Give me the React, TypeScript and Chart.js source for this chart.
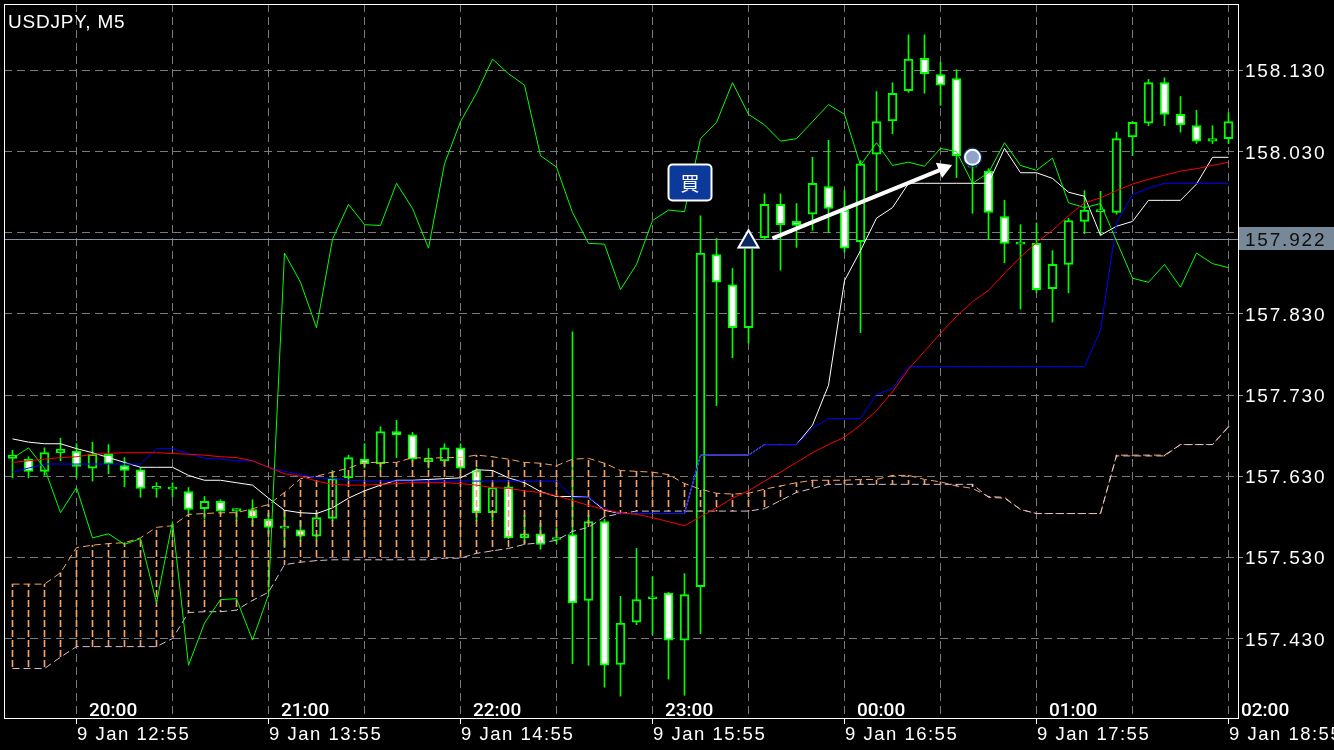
import React, { useEffect, useRef } from 'react';
import { Chart, registerables } from 'chart.js';

Chart.register(...registerables);

// ---------- data (USDJPY M5, bars indexed 0..76, 9 Jan 12:35 .. 18:55) ----------
const opens = [
  157.652, 157.651, 157.636, 157.659, 157.661, 157.640, 157.657, 157.643, 157.638, 157.615,
  157.614, 157.611, 157.590, 157.599, 157.587, 157.589, 157.577, 157.566, 157.564, 157.556,
  157.578, 157.628, 157.651, 157.645, 157.685, 157.681, 157.648, 157.649, 157.665, 157.637,
  157.585, 157.617, 157.554, 157.559, 157.552, 157.558, 157.477, 157.574, 157.398, 157.450,
  157.479, 157.486, 157.428, 157.494, 157.903, 157.866, 157.813, 157.924, 157.965, 157.944,
  157.953, 157.987, 157.958, 157.919, 158.027, 158.068, 158.105, 158.145, 158.125, 158.120,
  158.025, 158.006, 157.950, 157.916, 157.917, 157.861, 157.891, 157.944, 157.956, 157.955,
  158.048, 158.065, 158.115, 158.076, 158.062, 158.043, 158.046,
];
const highs = [
  157.662, 157.654, 157.665, 157.677, 157.670, 157.672, 157.669, 157.653, 157.641, 157.622,
  157.622, 157.616, 157.605, 157.601, 157.590, 157.601, 157.584, 157.588, 157.575, 157.585,
  157.637, 157.656, 157.670, 157.691, 157.699, 157.684, 157.664, 157.670, 157.670, 157.640,
  157.621, 157.619, 157.582, 157.572, 157.566, 157.808, 157.582, 157.577, 157.482, 157.541,
  157.506, 157.487, 157.510, 157.951, 157.923, 157.886, 157.930, 157.978, 157.978, 157.966,
  158.023, 158.044, 157.982, 158.019, 158.104, 158.115, 158.174, 158.174, 158.140, 158.131,
  158.031, 158.009, 157.970, 157.940, 157.942, 157.908, 157.948, 157.982, 157.981, 158.054,
  158.067, 158.119, 158.121, 158.098, 158.081, 158.062, 158.078,
];
const lows = [
  157.628, 157.628, 157.631, 157.649, 157.628, 157.624, 157.633, 157.617, 157.604, 157.604,
  157.604, 157.584, 157.577, 157.583, 157.575, 157.569, 157.559, 157.542, 157.550, 157.551,
  157.575, 157.625, 157.640, 157.638, 157.653, 157.647, 157.640, 157.643, 157.637, 157.575,
  157.575, 157.553, 157.547, 157.540, 157.547, 157.399, 157.397, 157.370, 157.359, 157.447,
  157.435, 157.380, 157.360, 157.436, 157.717, 157.776, 157.794, 157.922, 157.884, 157.912,
  157.933, 157.930, 157.906, 157.807, 157.982, 158.052, 158.103, 158.102, 158.087, 157.998,
  157.954, 157.922, 157.893, 157.836, 157.856, 157.820, 157.856, 157.929, 157.927, 157.953,
  158.025, 158.062, 158.062, 158.054, 158.040, 158.040, 158.040,
];
const closes = [
  157.656, 157.636, 157.659, 157.663, 157.642, 157.657, 157.645, 157.637, 157.615, 157.615,
  157.614, 157.589, 157.599, 157.587, 157.590, 157.579, 157.567, 157.566, 157.556, 157.579,
  157.627, 157.653, 157.645, 157.685, 157.681, 157.651, 157.652, 157.665, 157.640, 157.585,
  157.616, 157.554, 157.559, 157.546, 157.553, 157.474, 157.574, 157.397, 157.449, 157.478,
  157.479, 157.428, 157.484, 157.905, 157.869, 157.813, 157.922, 157.965, 157.940, 157.939,
  157.991, 157.960, 157.911, 158.015, 158.067, 158.102, 158.144, 158.126, 158.112, 158.025,
  158.011, 157.955, 157.917, 157.916, 157.860, 157.891, 157.945, 157.958, 157.956, 158.046,
  158.066, 158.115, 158.076, 158.063, 158.043, 158.046, 158.067,
];
const tenkan = [
  157.676, 157.672, 157.670, 157.670, 157.664, 157.659, 157.653, 157.647, 157.641, 157.641,
  157.641, 157.631, 157.625, 157.625, 157.622, 157.619, 157.603, 157.588, 157.585, 157.584,
  157.591, 157.603, 157.612, 157.619, 157.625, 157.625, 157.626, 157.627, 157.628, 157.638,
  157.637, 157.628, 157.622, 157.611, 157.605, 157.605, 157.604, 157.588, 157.584, 157.584,
  157.584, 157.584, 157.584, 157.656, 157.656, 157.656, 157.656, 157.669, 157.669, 157.669,
  157.693, 157.742, 157.871, 157.908, 157.948, 157.961, 157.991, 157.991, 157.991, 157.991,
  157.991, 157.991, 158.034, 158.004, 158.004, 157.997, 157.980, 157.975, 157.927, 157.938,
  157.944, 157.970, 157.970, 157.970, 157.990, 158.023, 158.023,
];
const kijun = [
  157.635, 157.640, 157.645, 157.645, 157.645, 157.645, 157.645, 157.645, 157.645, 157.664,
  157.664, 157.658, 157.652, 157.651, 157.649, 157.649, 157.641, 157.636, 157.632, 157.628,
  157.627, 157.625, 157.624, 157.624, 157.624, 157.624, 157.624, 157.624, 157.624, 157.624,
  157.624, 157.624, 157.624, 157.624, 157.624, 157.604, 157.604, 157.590, 157.584, 157.584,
  157.584, 157.584, 157.584, 157.656, 157.656, 157.656, 157.656, 157.669, 157.669, 157.669,
  157.689, 157.701, 157.701, 157.701, 157.731, 157.738, 157.765, 157.765, 157.765, 157.765,
  157.765, 157.765, 157.765, 157.765, 157.765, 157.765, 157.765, 157.765, 157.810, 157.942,
  157.977, 157.985, 157.991, 157.991, 157.991, 157.991, 157.991,
];
const spanA = [
  157.497, 157.497, 157.497, 157.511, 157.542, 157.545, 157.547, 157.548, 157.554, 157.567,
  157.569, 157.583, 157.584, 157.585, 157.585, 157.590, 157.595, 157.610, 157.627, 157.630,
  157.635, 157.640, 157.647, 157.647, 157.647, 157.653, 157.652, 157.653, 157.653, 157.656,
  157.654, 157.651, 157.647, 157.646, 157.643, 157.651, 157.652, 157.646, 157.637, 157.636,
  157.635, 157.632, 157.621, 157.614, 157.609, 157.608, 157.609, 157.614, 157.618, 157.622,
  157.625, 157.625, 157.625, 157.626, 157.626, 157.631, 157.631, 157.626, 157.623, 157.618,
  157.615, 157.605, 157.604, 157.589, 157.584, 157.584, 157.584, 157.584, 157.584, 157.656,
  157.656, 157.656, 157.656, 157.669, 157.669, 157.669, 157.691,
];
const spanB = [
  157.393, 157.393, 157.393, 157.407, 157.420, 157.420, 157.420, 157.420, 157.420, 157.420,
  157.430, 157.462, 157.463, 157.463, 157.465, 157.477, 157.487, 157.521, 157.524, 157.526,
  157.527, 157.527, 157.527, 157.527, 157.527, 157.527, 157.527, 157.529, 157.529, 157.535,
  157.538, 157.541, 157.546, 157.548, 157.551, 157.562, 157.567, 157.580, 157.584, 157.587,
  157.587, 157.587, 157.587, 157.587, 157.587, 157.587, 157.587, 157.590, 157.600, 157.610,
  157.615, 157.620, 157.620, 157.620, 157.620, 157.620, 157.620, 157.620, 157.620, 157.620,
  157.620, 157.604, 157.603, 157.589, 157.584, 157.584, 157.584, 157.584, 157.584, 157.655,
  157.655, 157.655, 157.655, 157.669, 157.669, 157.669, 157.691,
];
const chikou = [
  157.652, 157.665, 157.640, 157.585, 157.616, 157.554, 157.559, 157.546, 157.553, 157.474,
  157.574, 157.397, 157.449, 157.478, 157.479, 157.428, 157.484, 157.905, 157.869, 157.813,
  157.922, 157.965, 157.940, 157.939, 157.991, 157.960, 157.911, 158.015, 158.067, 158.102,
  158.144, 158.126, 158.112, 158.025, 158.011, 157.955, 157.917, 157.916, 157.860, 157.891,
  157.945, 157.958, 157.956, 158.046, 158.066, 158.115, 158.076, 158.063, 158.043, 158.046,
  158.067, 158.088, 158.076, 158.013, 158.041, 158.013, 158.017, 158.012, 158.034, 158.030,
  157.991, 158.004, 158.041, 158.013, 158.007, 158.022, 157.967, 157.961, 157.966, 157.920,
  157.874, 157.869, 157.891, 157.863, 157.905, 157.892, 157.887,
];
const movingAvg = [
  157.647, 157.649, 157.651, 157.653, 157.654, 157.657, 157.658, 157.659, 157.659, 157.659,
  157.658, 157.657, 157.656, 157.654, 157.653, 157.649, 157.641, 157.633, 157.630, 157.624,
  157.620, 157.619, 157.619, 157.620, 157.621, 157.622, 157.622, 157.622, 157.621, 157.619,
  157.616, 157.615, 157.612, 157.610, 157.606, 157.600, 157.594, 157.589, 157.585, 157.583,
  157.579, 157.574, 157.569, 157.580, 157.591, 157.603, 157.612, 157.624, 157.635, 157.647,
  157.659, 157.669, 157.678, 157.693, 157.711, 157.734, 157.762, 157.784, 157.806, 157.827,
  157.845, 157.859, 157.880, 157.900, 157.918, 157.933, 157.951, 157.967, 157.973, 157.982,
  157.990, 157.996, 158.001, 158.006, 158.009, 158.013, 158.017,
];

const priceTicks = [157.43, 157.53, 157.63, 157.73, 157.83, 157.93, 158.03, 158.13];
const gridIdx = [4, 10, 16, 22, 28, 34, 40, 46, 52, 58, 64, 70, 76];
const hourIdx = [4, 16, 28, 40, 52, 64, 76];
const hourLabels = ['20:00', '21:00', '22:00', '23:00', '00:00', '01:00', '02:00'];
const dateLabels = ['9 Jan 12:55', '9 Jan 13:55', '9 Jan 14:55', '9 Jan 15:55', '9 Jan 16:55', '9 Jan 17:55', '9 Jan 18:55'];
const symbolTitle = 'USDJPY, M5';
const orderPrice = 157.922;
const entryMark = { x: 46, y: 157.919 };
const exitMark = { x: 60, y: 158.023 };
const arrowFrom = { x: 47.5, y: 157.923 };
const arrowTo = { x: 58.18, y: 158.009 };
const buyLabelAt = { x: 42.3, y: 157.993 };
const buyLabelText = '買';

const X_MIN = -0.53125;
const X_MAX = 76.59375;
const Y_MIN = 157.332025;
const Y_MAX = 158.211954;

export default function App() {
  const ref = useRef<HTMLCanvasElement>(null);

  useEffect(() => {
    document.body.style.margin = '0';
    document.body.style.background = '#000';
    const canvas = ref.current as HTMLCanvasElement;
    const mainCtx = canvas.getContext('2d') as CanvasRenderingContext2D;
    const mkPattern = (color: string) => {
      const c = document.createElement('canvas');
      c.width = 1;
      c.height = 10;
      const g = c.getContext('2d') as CanvasRenderingContext2D;
      g.fillStyle = color;
      g.fillRect(0, 0, 1, 7);
      return mainCtx.createPattern(c, 'repeat') as CanvasPattern;
    };
    const upHatch = mkPattern('#f4a460');
    const dnHatch = mkPattern('#d8bfd8');
    const idx = closes.map((_, i) => i);
    const pts = (arr: number[]) => arr.map((v, i) => ({ x: i, y: v }));

    const lineDs = (label: string, arr: number[], color: string, order: number, extra: any = {}) => ({
      type: 'line',
      label,
      data: pts(arr),
      borderColor: color,
      borderWidth: 1,
      pointRadius: 0,
      fill: false,
      tension: 0,
      order,
      ...extra,
    });
    const marker = (p: any, style: string, r: number, bg: string, bw: number, order: number) => ({
      type: 'line',
      data: [p],
      showLine: false,
      pointStyle: style,
      pointRadius: r,
      pointBackgroundColor: bg,
      pointBorderColor: '#ffffff',
      pointBorderWidth: bw,
      order,
    });

    const overlay = {
      id: 'overlay',
      beforeDraw(chart: any) {
        const c = chart.ctx;
        c.save();
        c.fillStyle = '#000000';
        c.fillRect(0, 0, chart.width, chart.height);
        c.restore();
      },
      beforeDatasetsDraw(chart: any) {
        const c = chart.ctx;
        const a = chart.chartArea;
        const py = Math.round(chart.scales.y.getPixelForValue(orderPrice)) + 0.5;
        c.save();
        c.strokeStyle = '#8494a6';
        c.lineWidth = 1;
        c.beginPath();
        c.moveTo(a.left, py);
        c.lineTo(a.right, py);
        c.stroke();
        c.restore();
      },
      afterDatasetsDraw(chart: any) {
        const c = chart.ctx;
        const cx = chart.scales.x.getPixelForValue(buyLabelAt.x);
        const cy = chart.scales.y.getPixelForValue(buyLabelAt.y);
        const w = 43;
        const h = 36;
        const l = Math.round(cx - w / 2) + 0.5;
        const t = Math.round(cy - h / 2) + 0.5;
        c.save();
        c.beginPath();
        c.roundRect(l, t, w, h, 4);
        c.fillStyle = '#0c3a9a';
        c.fill();
        c.lineWidth = 2;
        c.strokeStyle = '#ffffff';
        c.stroke();
        c.fillStyle = '#ffffff';
        c.font = '19px "Noto Sans CJK JP"';
        c.textAlign = 'center';
        c.textBaseline = 'middle';
        c.fillText(buyLabelText, l + w / 2, t + h / 2 + 1);
        c.restore();
      },
      afterDraw(chart: any) {
        const c = chart.ctx as any;
        const a = chart.chartArea;
        const xs = chart.scales.x;
        const ys = chart.scales.y;
        c.save();
        c.strokeStyle = '#ffffff';
        c.lineWidth = 1;
        c.strokeRect(a.left + 0.5, a.top + 0.5, a.right - a.left, a.bottom - a.top);

        c.fillStyle = '#ffffff';
        c.textAlign = 'left';
        c.textBaseline = 'alphabetic';
        c.font = '19px "Liberation Sans"';
        c.letterSpacing = '0.8px';
        c.fillText(symbolTitle, 8, 28);

        c.letterSpacing = '1.8px';
        priceTicks.forEach((v) => {
          const py = ys.getPixelForValue(v);
          c.fillText(v.toFixed(3), a.right + 7, py + 7);
        });
        const op = ys.getPixelForValue(orderPrice);
        c.fillStyle = '#778899';
        c.fillRect(a.right + 1, Math.round(op) - 12, chart.width - a.right - 1, 23);
        c.fillStyle = '#0e0e0e';
        c.fillText(orderPrice.toFixed(3), a.right + 7, op + 7);

        c.fillStyle = '#ffffff';
        c.letterSpacing = '0px';
        c.font = '500 19px Roboto';
        hourIdx.forEach((k, i) => c.fillText(hourLabels[i], xs.getPixelForValue(k) + 12.5, 716));
        c.font = '18.5px "Liberation Sans"';
        c.letterSpacing = '1.5px';
        hourIdx.forEach((k, i) => c.fillText(dateLabels[i], xs.getPixelForValue(k) + 0.5, 740));
        c.restore();
      },
    };

    const chart = new Chart(canvas, {
      type: 'bar',
      data: {
        datasets: [
          {
            type: 'bar',
            label: 'wick',
            data: idx.map((i) => ({ x: i, y: [lows[i], highs[i]] })),
            backgroundColor: '#00ff00',
            borderWidth: 0,
            barThickness: 1,
            grouped: false,
            order: 100,
          },
          {
            type: 'bar',
            label: 'body',
            data: idx.map((i) => ({ x: i, y: [opens[i], closes[i]] })),
            backgroundColor: (c: any) => (opens[c.dataIndex] > closes[c.dataIndex] ? '#ffffff' : '#000000'),
            borderColor: '#00ff00',
            borderWidth: 2,
            borderSkipped: false,
            barThickness: 9,
            minBarLength: 2,
            grouped: false,
            order: 90,
          },
          {
            type: 'bar',
            label: 'kumo',
            data: idx.map((i) => ({ x: i, y: [spanB[i], spanA[i]] })),
            backgroundColor: (c: any) => (spanA[c.dataIndex] >= spanB[c.dataIndex] ? upHatch : dnHatch),
            borderWidth: 0,
            barThickness: 1,
            grouped: false,
            order: 80,
          },
          lineDs('Senkou Span A', spanA, '#f4a460', 70, { borderDash: [7, 4] }),
          lineDs('Senkou Span B', spanB, '#d8bfd8', 69, { borderDash: [7, 4] }),
          lineDs('Tenkan-sen', tenkan, '#ffffff', 61),
          lineDs('Kijun-sen', kijun, '#0000ff', 60),
          lineDs('Chikou Span', chikou, '#00ff00', 58),
          lineDs('MA', movingAvg, '#ff0000', 50),
          {
            type: 'line',
            label: 'arrow',
            data: [arrowFrom, arrowTo],
            borderColor: '#ffffff',
            borderWidth: 4,
            pointRadius: 0,
            order: 20,
          },
          {
            type: 'line',
            label: 'arrowHead',
            data: [arrowTo],
            showLine: false,
            pointStyle: 'triangle',
            pointRadius: 9.5,
            pointBackgroundColor: '#ffffff',
            pointBorderWidth: 0,
            pointRotation: (c: any) => {
              const xs = c.chart.scales.x;
              const ys = c.chart.scales.y;
              const dx = xs.getPixelForValue(arrowTo.x) - xs.getPixelForValue(arrowFrom.x);
              const dy = ys.getPixelForValue(arrowTo.y) - ys.getPixelForValue(arrowFrom.y);
              return (Math.atan2(dy, dx) * 180) / Math.PI + 90;
            },
            order: 19,
          },
          marker(entryMark, 'triangle', 14, '#0b2660', 0, 12),
          marker(entryMark, 'triangle', 11.5, '#0b2660', 2, 11),
          marker(exitMark, 'circle', 10, '#0b2660', 0, 10),
          marker(exitMark, 'circle', 7.5, '#8ea3c9', 2, 9),
        ] as any,
      },
      options: {
        responsive: false,
        devicePixelRatio: 1,
        animation: false,
        events: [],
        layout: { autoPadding: false, padding: { left: 4, top: 4, right: 0, bottom: 0 } },
        plugins: { legend: { display: false }, tooltip: { enabled: false } },
        scales: {
          x: {
            type: 'linear',
            min: X_MIN,
            max: X_MAX,
            offset: false,
            position: 'bottom',
            afterBuildTicks: (s: any) => {
              s.ticks = gridIdx.map((v) => ({ value: v }));
            },
            afterFit: (s: any) => {
              s.height = 32;
            },
            ticks: { display: false },
            grid: {
              offset: false,
              color: '#7a7a7a',
              lineWidth: 1,
              drawTicks: true,
              tickLength: 6,
              tickWidth: 1,
              tickColor: (c: any) => (c.tick && hourIdx.includes(c.tick.value) ? '#ffffff' : 'rgba(0,0,0,0)'),
              tickBorderDash: [],
            },
            border: { display: false, dash: [8, 5] },
          },
          y: {
            type: 'linear',
            min: Y_MIN,
            max: Y_MAX,
            position: 'right',
            afterBuildTicks: (s: any) => {
              s.ticks = priceTicks.map((v) => ({ value: v }));
            },
            afterFit: (s: any) => {
              s.width = 96;
            },
            ticks: { display: false },
            grid: {
              color: '#7a7a7a',
              lineWidth: 1,
              drawTicks: true,
              tickLength: 5,
              tickColor: '#9a9a9a',
              tickBorderDash: [],
            },
            border: { display: false, dash: [8, 5] },
          },
        },
      } as any,
      plugins: [overlay as any],
    });
    return () => chart.destroy();
  }, []);

  return (
    <div style={{ position: 'fixed', left: 0, top: 0, width: 1334, height: 750, background: '#000' }}>
      <canvas ref={ref} width={1334} height={750} style={{ display: 'block', width: 1334, height: 750 }} />
    </div>
  );
}
